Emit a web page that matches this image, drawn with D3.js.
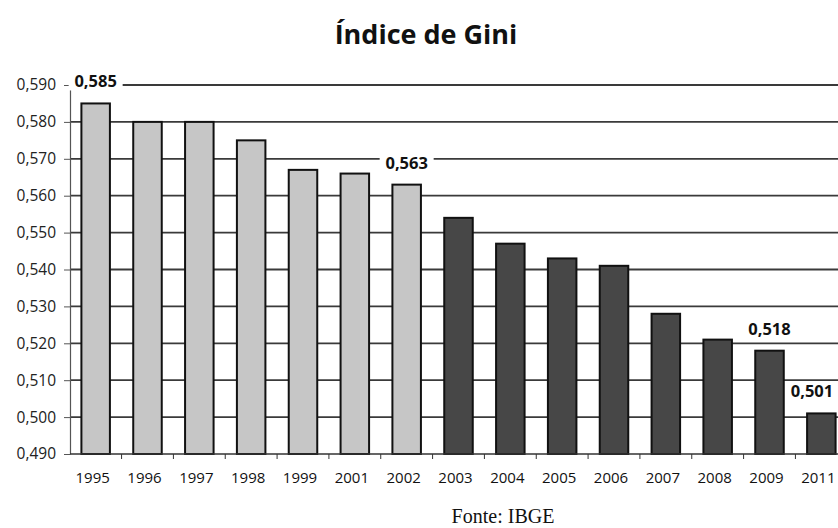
<!DOCTYPE html>
<html>
<head>
<meta charset="utf-8">
<script src="https://cdn.jsdelivr.net/npm/d3@7"></script>
<style>
  body { margin: 0; background: #fff; }
  svg { display: block; }
</style>
</head>
<body>
<div id="chart"></div>
<script>
// Índice de Gini - Brasil (fonte IBGE)
let years = ["1995", "1996", "1997", "1998", "1999", "2001", "2002", "2003",
             "2004", "2005", "2006", "2007", "2008", "2009", "2011"];
let gini = [0.585, 0.580, 0.580, 0.575, 0.567, 0.566, 0.563, 0.554,
            0.547, 0.543, 0.541, 0.528, 0.521, 0.518, 0.501];
let yTicks = [0.490, 0.500, 0.510, 0.520, 0.530, 0.540, 0.550, 0.560, 0.570, 0.580, 0.590];
let labelled = ["1995", "2002", "2009", "2011"];
let darkFrom = "2003";

let width = 838, height = 528;
let fmt = (v) => d3.format(".3f")(v).replace(".", ",");

let svg = d3.select("#chart").append("svg")
    .attr("width", width)
    .attr("height", height);

let x = d3.scaleBand()
    .domain(years)
    .range([70, 847])
    .paddingInner(0.45)
    .paddingOuter(0.22);

let y = d3.scaleLinear()
    .domain([0.490, 0.590])
    .range([454, 85]);

// title
svg.append("text")
    .attr("x", 426)
    .attr("y", 44)
    .attr("text-anchor", "middle")
    .style("font-family", "'Open Sans', sans-serif")
    .style("font-weight", "700")
    .style("font-size", "27px")
    .attr("fill", "#111")
    .text("Índice de Gini");

// grid lines
svg.append("g")
    .selectAll("line")
    .data(yTicks.slice(1))
    .join("line")
        .attr("x1", 70)
        .attr("x2", width)
        .attr("y1", (d) => y(d))
        .attr("y2", (d) => y(d))
        .attr("stroke", "#3a3a3a")
        .attr("stroke-width", 1.8);

// y axis
let yAxis = svg.append("g")
    .attr("transform", "translate(70,0)")
    .call(d3.axisLeft(y).tickValues(yTicks).tickFormat(fmt).tickSize(6).tickSizeOuter(0));
yAxis.select(".domain").attr("stroke", "#555").attr("stroke-width", 1.2);
yAxis.selectAll(".tick line").attr("stroke", "#555");
yAxis.selectAll("text")
    .attr("x", -14)
    .style("font-family", "'Open Sans', sans-serif")
    .style("font-size", "15.5px")
    .attr("fill", "#222");

// bars
svg.append("g")
    .selectAll("rect")
    .data(years)
    .join("rect")
        .attr("x", (d) => x(d))
        .attr("width", x.bandwidth())
        .attr("y", (d, i) => y(gini[i]))
        .attr("height", (d, i) => y(0.490) - y(gini[i]))
        .attr("fill", (d) => d >= darkFrom ? "#474747" : "#c6c6c6")
        .attr("stroke", "#111")
        .attr("stroke-width", 2);

// x axis
let xAxis = svg.append("g")
    .attr("transform", "translate(0,454)");
xAxis.append("line")
    .attr("x1", 70)
    .attr("x2", width)
    .attr("stroke", "#333")
    .attr("stroke-width", 1.5);
xAxis.selectAll(".tk")
    .data(years.slice(1))
    .join("line")
        .attr("class", "tk")
        .attr("x1", (d) => x(d) - x.step() * x.paddingInner() / 2)
        .attr("x2", (d) => x(d) - x.step() * x.paddingInner() / 2)
        .attr("y1", 0)
        .attr("y2", 5)
        .attr("stroke", "#333");
xAxis.selectAll("text")
    .data(years)
    .join("text")
        .attr("x", (d) => Math.min(x(d) + x.bandwidth() / 2 - 3, width - 18))
        .attr("y", 29)
        .attr("text-anchor", "middle")
        .style("font-family", "'Open Sans', sans-serif")
        .style("font-size", "15px")
        .attr("fill", "#111")
        .text((d) => d);

// data labels with white background (kept inside the picture)
let lab = svg.append("g")
    .selectAll("g")
    .data(labelled)
    .join("g")
        .attr("transform", (d) => {
            let i = years.indexOf(d);
            let cx = Math.min(x(d) + x.bandwidth() / 2, width - 26);
            return "translate(" + cx + "," + (y(gini[i]) - 16) + ")";
        });
lab.append("rect")
    .attr("x", -27)
    .attr("y", -14)
    .attr("width", 54)
    .attr("height", 17)
    .attr("fill", "#fff");
lab.append("text")
    .attr("text-anchor", "middle")
    .style("font-family", "'Open Sans', sans-serif")
    .style("font-weight", "700")
    .style("font-size", "16.5px")
    .attr("fill", "#111")
    .text((d) => fmt(gini[years.indexOf(d)]));

// source
svg.append("text")
    .attr("x", 503)
    .attr("y", 523)
    .attr("text-anchor", "middle")
    .style("font-family", "'Liberation Serif', serif")
    .style("font-size", "20px")
    .attr("fill", "#111")
    .text("Fonte: IBGE");
</script>
</body>
</html>
